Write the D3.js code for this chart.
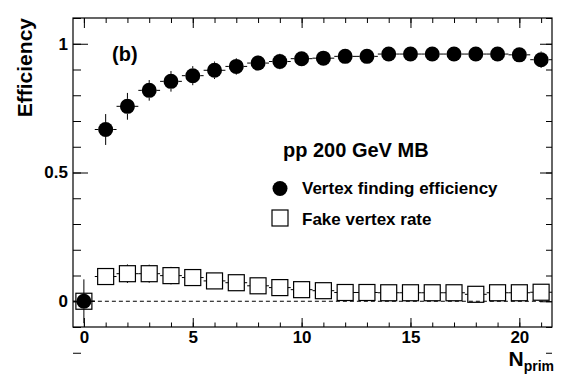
<!DOCTYPE html>
<html>
<head>
<meta charset="utf-8">
<script src="https://cdn.jsdelivr.net/npm/d3@7"></script>
<style>
  body { margin: 0; background: #fff; }
  svg text { font-family: "Liberation Sans", Arial, sans-serif; font-weight: bold; fill: #000; }
</style>
</head>
<body>
<svg id="chart" width="564" height="377"></svg>
<script>
// N_prim bins
const nprim = [0, 1, 2, 3, 4, 5, 6, 7, 8, 9, 10, 11, 12, 13, 14, 15, 16, 17, 18, 19, 20, 21];
// vertex finding efficiency and its error
const eff = [0, 0.667, 0.757, 0.819, 0.854, 0.876, 0.897, 0.912, 0.925, 0.931, 0.942,
             0.944, 0.951, 0.951, 0.960, 0.960, 0.960, 0.960, 0.960, 0.960, 0.957, 0.938];
const effErr = [0.085, 0.06, 0.052, 0.04, 0.04, 0.037, 0.034, 0.032, 0.03, 0.03, 0.028,
                0.028, 0.028, 0.027, 0.027, 0.026, 0.026, 0.026, 0.026, 0.026, 0.028, 0.032];
// fake vertex rate and its error
const fake = [0, 0.096, 0.107, 0.107, 0.0995, 0.092, 0.079, 0.072, 0.060, 0.053, 0.045,
              0.041, 0.034, 0.034, 0.033, 0.033, 0.033, 0.033, 0.027, 0.033, 0.033, 0.035];
const fakeErr = [0, 0.03, 0.036, 0.035, 0.034, 0.03, 0.028, 0.026, 0.025, 0.024, 0.022,
                 0.022, 0.02, 0.02, 0.02, 0.02, 0.02, 0.02, 0.02, 0.02, 0.02, 0.02];

const xMajor = [0, 5, 10, 15, 20];
const yMajor = [0, 0.5, 1];
const legendHeader = "pp 200 GeV MB";
const legendLabels = ["Vertex finding efficiency", "Fake vertex rate"];

const svg = d3.select("#chart");
const frameL = 73, frameR = 552, frameT = 18, frameB = 327;

const x = d3.scaleLinear().domain([-0.5, 21.5]).range([frameL, frameR]);
const y = d3.scaleLinear().domain([-0.1, 1.1]).range([frameB, frameT]);

const xMinor = d3.range(0, 22);
const yMinor = d3.range(-10, 12).map(d => d / 10);

// ticks (inward, ROOT style)
function addAxis(axis, tx, ty, labels) {
    const g = svg.append("g").attr("transform", `translate(${tx},${ty})`).call(axis);
    g.select(".domain").remove();
    g.selectAll(".tick line").attr("stroke", "#000").attr("stroke-width", 1);
    if (labels) g.selectAll(".tick text").style("font-size", "17px").attr("fill", "#000");
    else g.selectAll(".tick text").remove();
    g.attr("font-family", null).attr("font-size", null);
    return g;
}
addAxis(d3.axisBottom(x).tickValues(xMinor).tickSize(-4.5).tickFormat(""), 0, frameB, false);
addAxis(d3.axisBottom(x).tickValues(xMajor).tickSize(-9).tickPadding(4).tickFormat(d3.format("d")), 0, frameB, true);
addAxis(d3.axisTop(x).tickValues(xMinor).tickSize(-5).tickFormat(""), 0, frameT, false);
addAxis(d3.axisTop(x).tickValues(xMajor).tickSize(-10).tickFormat(""), 0, frameT, false);
addAxis(d3.axisLeft(y).tickValues(yMinor).tickSize(-8).tickFormat(""), frameL, 0, false);
addAxis(d3.axisLeft(y).tickValues(yMajor).tickSize(-15).tickPadding(5).tickFormat(d => String(d)), frameL, 0, true);
addAxis(d3.axisRight(y).tickValues(yMinor).tickSize(-6).tickFormat(""), frameR, 0, false);
addAxis(d3.axisRight(y).tickValues(yMajor).tickSize(-12).tickFormat(""), frameR, 0, false);

// frame
svg.append("rect")
    .attr("x", frameL).attr("y", frameT)
    .attr("width", frameR - frameL).attr("height", frameB - frameT)
    .attr("fill", "none").attr("stroke", "#000").attr("stroke-width", 1.2);

// dashed zero line
svg.append("line")
    .attr("x1", x(0)).attr("x2", x(21.5))
    .attr("y1", y(0)).attr("y2", y(0))
    .attr("stroke", "#000").attr("stroke-width", 1)
    .attr("stroke-dasharray", "4,3");

// error bars drawn outside the marker, like ROOT
function errorBars(vals, errs, gap) {
    const g = svg.append("g").attr("stroke", "#000").attr("stroke-width", 1);
    nprim.forEach((n, i) => {
        const cx = x(n), cy = y(vals[i]);
        const segs = [
            [x(n - 0.5), cy, cx - gap, cy],
            [cx + gap, cy, x(n + 0.5), cy],
            [cx, y(vals[i] + errs[i]), cx, cy - gap],
            [cx, cy + gap, cx, y(vals[i] - errs[i])]
        ];
        segs.forEach(s => {
            if (s[0] < s[2] || s[1] < s[3]) {
                g.append("line")
                    .attr("x1", s[0]).attr("y1", Math.min(s[1], frameB))
                    .attr("x2", s[2]).attr("y2", Math.min(s[3], frameB));
            }
        });
    });
}

errorBars(fake, fakeErr, 8);
errorBars(eff, effErr, 7.5);

// fake rate: open squares
svg.append("g").selectAll("rect")
    .data(nprim)
    .join("rect")
    .attr("x", d => x(d) - 8)
    .attr("y", (d, i) => y(fake[i]) - 8)
    .attr("width", 16).attr("height", 16)
    .attr("fill", "none").attr("stroke", "#000").attr("stroke-width", 1.2);

// efficiency: full circles
svg.append("g").selectAll("circle")
    .data(nprim)
    .join("circle")
    .attr("cx", d => x(d))
    .attr("cy", (d, i) => y(eff[i]))
    .attr("r", 7.5)
    .attr("fill", "#000");

// panel label
svg.append("text").attr("x", 112).attr("y", 61).style("font-size", "20px").text("(b)");

// legend
svg.append("text").attr("x", 283).attr("y", 157).style("font-size", "20px").text(legendHeader);
svg.append("circle").attr("cx", 280).attr("cy", 188.5).attr("r", 7.5).attr("fill", "#000");
svg.append("rect").attr("x", 272).attr("y", 210).attr("width", 16).attr("height", 16)
    .attr("fill", "none").attr("stroke", "#000").attr("stroke-width", 1.2);
svg.selectAll(".leg")
    .data(legendLabels)
    .join("text")
    .attr("class", "leg")
    .attr("x", 302)
    .attr("y", (d, i) => 194 + i * 31)
    .style("font-size", "17px")
    .text(d => d);

// axis titles
svg.append("text")
    .attr("transform", "translate(32,18) rotate(-90)")
    .attr("text-anchor", "end")
    .style("font-size", "21px")
    .text("Efficiency");

const xt = svg.append("text").attr("x", 554).attr("y", 366).attr("text-anchor", "end");
xt.append("tspan").style("font-size", "21px").text("N");
xt.append("tspan").attr("dy", 5).style("font-size", "14px").text("prim");
</script>
</body>
</html>
